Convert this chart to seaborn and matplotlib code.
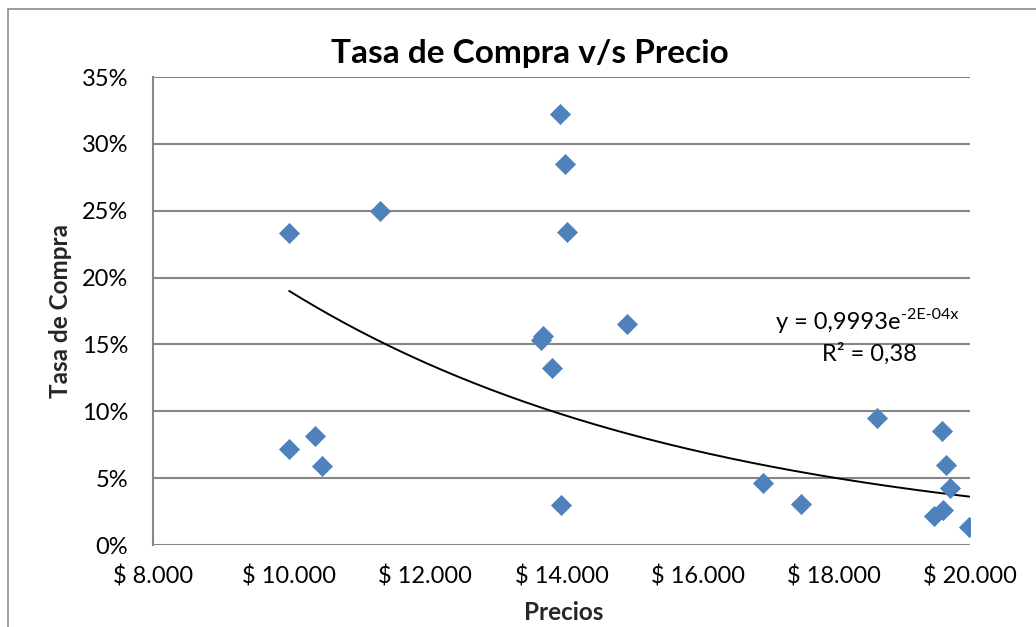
import numpy as np
import pandas as pd
import matplotlib
matplotlib.use("Agg")
import matplotlib.pyplot as plt
from matplotlib.patches import Rectangle
from matplotlib.ticker import FuncFormatter
import seaborn as sns

# Price (CLP) and purchase rate for each product
precios = [10000, 10000, 10380, 10480, 11340, 13980, 14050, 14080, 13730, 13700,
           13860, 13990, 14960, 16960, 17520, 18640, 19590, 19650, 19710, 19600,
           19470, 19990]
tasa = [0.233, 0.072, 0.0815, 0.059, 0.250, 0.322, 0.285, 0.234, 0.156, 0.153,
        0.132, 0.030, 0.165, 0.046, 0.0305, 0.095, 0.085, 0.060, 0.043, 0.026,
        0.022, 0.0135]

# Exponential trend y = a * exp(b * x)
trend_a = 0.9993
trend_b = -1.66e-4
trend_r2 = 0.38

x_ticks = [8000, 10000, 12000, 14000, 16000, 18000, 20000]
y_ticks = [0.0, 0.05, 0.10, 0.15, 0.20, 0.25, 0.30, 0.35]

df = pd.DataFrame({"Precios": precios, "Tasa de Compra": tasa})

sns.set_theme(style="white")
plt.rcParams["font.family"] = ["Lato", "DejaVu Sans"]

fig = plt.figure(figsize=(10.36, 6.27), dpi=100)
ax = fig.add_axes([153 / 1036, 1 - 545 / 627, 817 / 1036, 468 / 627])

grid_c = "#868686"
for yv in y_ticks:
    ax.axhline(yv, color=grid_c, lw=1.5, zorder=0)

sns.scatterplot(data=df, x="Precios", y="Tasa de Compra", marker="D", s=105,
                color="#4F81BD", edgecolor="#4F81BD", linewidth=0.5, ax=ax, zorder=3)

xs = np.linspace(min(precios), max(precios), 200)
ax.plot(xs, trend_a * np.exp(trend_b * xs), color="black", lw=1.4, zorder=2)

# Trend equation: base text plus raised exponent
ax.text(18980, 0.1615, "y = 0,9993e", ha="right", va="baseline",
        fontsize=17, color="black", zorder=4)
ax.annotate("-2E-04x", xy=(18980, 0.1615), xytext=(0.5, 7), textcoords="offset points",
            ha="left", va="baseline", fontsize=11.5, color="black", zorder=4)
ax.text(18520, 0.1375, f"R² = {trend_r2:.2f}".replace(".", ","), ha="center", va="baseline",
        fontsize=17, color="black", zorder=4)

ax.set_xlim(8000, 20000)
ax.set_ylim(0, 0.35)
ax.set_xticks(x_ticks)
ax.set_yticks(y_ticks)
ax.xaxis.set_major_formatter(FuncFormatter(lambda v, p: "$ " + f"{int(v):,}".replace(",", ".")))
ax.yaxis.set_major_formatter(FuncFormatter(lambda v, p: f"{v * 100:.0f}%"))
ax.tick_params(axis="both", labelsize=17, colors="black", length=0)
ax.tick_params(axis="x", pad=15)
ax.tick_params(axis="y", pad=18)

for side in ["top", "right", "bottom"]:
    ax.spines[side].set_visible(False)
ax.spines["left"].set_color(grid_c)
ax.spines["left"].set_linewidth(1.5)

ax.set_xlabel("Precios", fontsize=17.5, fontweight="bold")
ax.set_ylabel("Tasa de Compra", fontsize=17.5, fontweight="bold")
ax.xaxis.set_label_coords(0.503, -0.119)
ax.yaxis.set_label_coords(-0.099, 0.5)
fig.text(530 / 1036, 1 - 54 / 627, "Tasa de Compra v/s Precio", ha="center", va="center",
         fontsize=24, fontweight="bold", color="black")

# Chart area frame
fig.patches.append(Rectangle((8 / 1036, -0.1), 1.2, 1 - 9 / 627 + 0.1, transform=fig.transFigure,
                             fill=False, edgecolor="#8c8c8c", lw=1.2))

fig.savefig("out.png", dpi=100)
